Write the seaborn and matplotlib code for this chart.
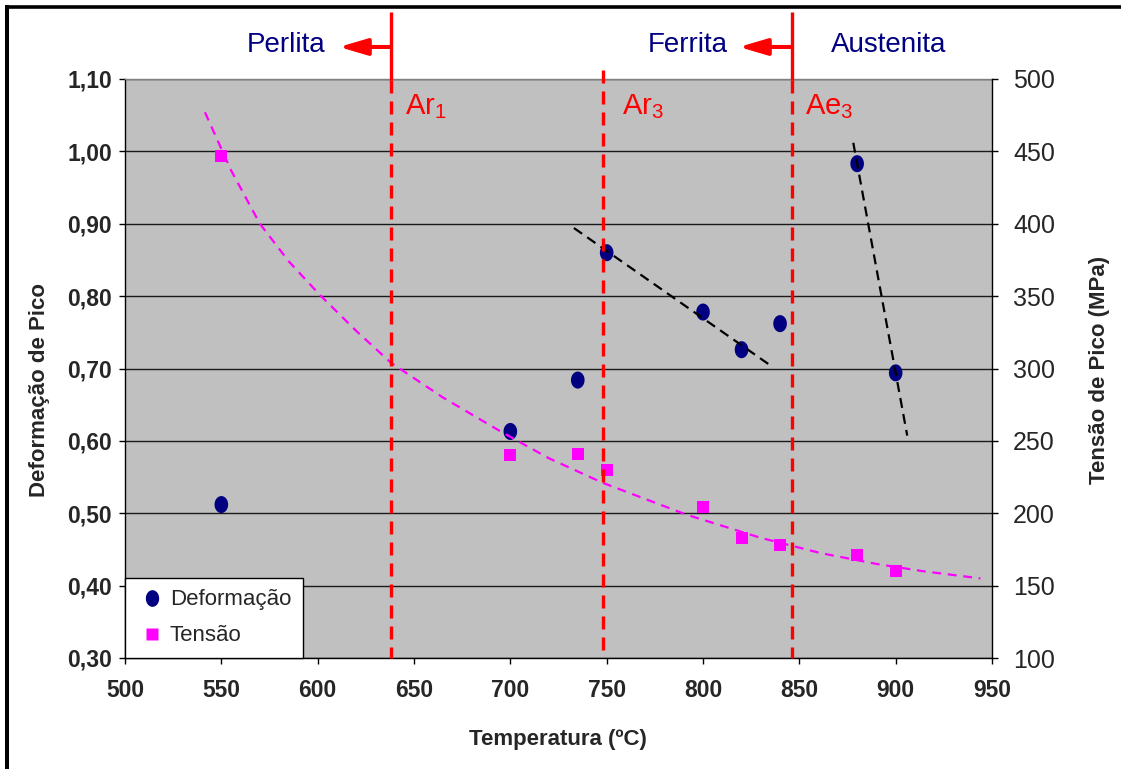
import numpy as np
import pandas as pd
import matplotlib
matplotlib.use("Agg")
import matplotlib.pyplot as plt
import seaborn as sns
from matplotlib.lines import Line2D
from matplotlib.path import Path

# ---------------- data ----------------
temperatura = [550, 700, 735, 750, 800, 820, 840, 880, 900]
deformacao = [0.512, 0.613, 0.684, 0.860, 0.778, 0.726, 0.762, 0.983, 0.694]
tensao = [447, 240, 241, 230, 204, 183, 178, 171, 160]

# Tensão trend curve
tendencia_temp = [541.5, 555, 570, 585, 601, 620, 638, 665, 695, 720, 748, 791.5, 830, 861, 890, 914, 944]
tendencia_tensao = [477, 437, 400, 374, 351, 326, 304, 280, 256.5, 238, 221, 199, 183, 172.5, 165, 160, 155]

# phase transformation temperatures
transf_nome = ["Ar", "Ar", "Ae"]
transf_indice = ["1", "3", "3"]
transf_temp = [638, 748, 846]

fases = ["Perlita", "Ferrita", "Austenita"]

x_ticks = [500, 550, 600, 650, 700, 750, 800, 850, 900, 950]
y_left_ticks = [0.30, 0.40, 0.50, 0.60, 0.70, 0.80, 0.90, 1.00, 1.10]
y_right_ticks = [100, 150, 200, 250, 300, 350, 400, 450, 500]

# ---------------- style ----------------
sns.set_style("white")
plt.rcParams["font.family"] = ["Liberation Sans", "DejaVu Sans"]
plt.rcParams["mathtext.fontset"] = "custom"
plt.rcParams["mathtext.rm"] = "Liberation Sans"
plt.rcParams["mathtext.it"] = "Liberation Sans:italic"
plt.rcParams["mathtext.bf"] = "Liberation Sans:bold"

W, H = 1121, 769
fig = plt.figure(figsize=(W / 100, H / 100), dpi=100)
fig.patch.set_facecolor("white")
ax = fig.add_axes([125 / W, (H - 658) / H, (992 - 125) / W, (658 - 79) / H])
ax.set_facecolor("#C0C0C0")
ax2 = ax.twinx()
ax2.patch.set_visible(False)

df = pd.DataFrame({"Temperatura": temperatura,
                   "Deformação": deformacao,
                   "Tensão": tensao})

navy = "#000080"
magenta = "#FF00FF"

# slightly tall elliptical marker (as in the original)
th = np.linspace(0, 2 * np.pi, 60)
ellipse = Path(np.column_stack([0.8 * np.cos(th), np.sin(th)]), closed=True)

sns.scatterplot(data=df, x="Temperatura", y="Deformação", ax=ax, color=navy,
                marker=ellipse, s=150, edgecolor="none", legend=False, zorder=4)
sns.scatterplot(data=df, x="Temperatura", y="Tensão", ax=ax2, color=magenta,
                marker="s", s=75, edgecolor="none", legend=False, zorder=4)

# trend lines
tx = np.array(temperatura, dtype=float)
ty_d = np.array(deformacao)

p1 = np.polyfit(tx[3:6], ty_d[3:6], 1)
xr1 = np.array([733, 836])
ax.plot(xr1, np.polyval(p1, xr1), color="black", lw=1.6, dashes=(4.5, 2.8), zorder=5)

p2 = np.polyfit(tx[7:9], ty_d[7:9], 1)
xr2 = np.array([878, 906])
ax.plot(xr2, np.polyval(p2, xr2), color="black", lw=1.6, dashes=(4.5, 2.8), zorder=5)

sns.lineplot(x=tendencia_temp, y=tendencia_tensao, ax=ax2, color=magenta, lw=1.6,
             dashes=(4, 3), zorder=5, sort=False, legend=False)

# axes limits / ticks
ax.set_xlim(500, 950)
ax.set_ylim(0.30, 1.10)
ax2.set_ylim(100, 500)
ax.set_xticks(x_ticks)
ax.set_xticklabels([str(v) for v in x_ticks])
ax.set_yticks(y_left_ticks)
ax.set_yticklabels([f"{v:.2f}".replace(".", ",") for v in y_left_ticks])
ax2.set_yticks(y_right_ticks)
ax2.set_yticklabels([str(v) for v in y_right_ticks])
ax.set_xlabel("")
ax.set_ylabel("")
ax2.set_ylabel("")

ax.grid(axis="y", color="#1a1a1a", lw=1.0)
ax.grid(axis="x", visible=False)
ax.set_axisbelow(True)

for s in ["left", "bottom"]:
    ax.spines[s].set_color("black")
    ax.spines[s].set_linewidth(1.0)
ax.spines["top"].set_color("#808080")
ax.spines["top"].set_linewidth(1.0)
ax.spines["right"].set_visible(False)
for s in ["left", "bottom", "top"]:
    ax2.spines[s].set_visible(False)
ax2.spines["right"].set_color("black")
ax2.spines["right"].set_linewidth(1.0)
ax2.spines["right"].set_visible(True)

ax.tick_params(axis="y", direction="out", length=4.3, width=1, color="black",
               pad=5, labelsize=16.5, left=True)
ax.tick_params(axis="x", direction="out", length=4.3, width=1, color="black",
               pad=11, labelsize=16.5, bottom=True)
ax2.tick_params(axis="y", direction="out", length=4.3, width=1, color="black",
                pad=11, labelsize=18, right=True)
for lab in ax.get_xticklabels() + ax.get_yticklabels():
    lab.set_fontweight("bold")

# axis titles
fig.text(558 / W, 1 - 740 / H, "Temperatura (ºC)", ha="center", va="center",
         fontsize=16, fontweight="bold")
fig.text(40 / W, 1 - 390 / H, "Deformação de Pico", ha="center", va="center",
         rotation=90, fontsize=16, fontweight="bold")
fig.text(1100 / W, 1 - 370 / H, "Tensão de Pico (MPa)", ha="center", va="center",
         rotation=90, fontsize=16, fontweight="bold")

# legend
handles = [Line2D([], [], marker=ellipse, ls="none", color=navy, ms=12, mec="none"),
           Line2D([], [], marker="s", ls="none", color=magenta, ms=8, mec="none")]
leg = ax2.legend(handles, ["Deformação", "Tensão"], loc="lower left",
                 bbox_to_anchor=(0, 0), borderaxespad=0, frameon=True,
                 fancybox=False, edgecolor="black", facecolor="white",
                 framealpha=1, fontsize=16, borderpad=0.52, labelspacing=0.68,
                 handlelength=1.4, handletextpad=0.1)
leg.get_frame().set_linewidth(1.0)
leg.set_zorder(10)

# transformation lines
trans = ax2.get_xaxis_transform()
for t in transf_temp:
    top = 1.0155 if t == transf_temp[1] else 0.998
    ax2.plot([t, t], [top, 0], transform=trans, color="red", lw=2.4,
             dashes=(3.9, 2.4), clip_on=False, zorder=8, solid_capstyle="butt")
for t in (transf_temp[0], transf_temp[2]):
    ax2.plot([t, t], [1.1157, 0.998], transform=trans, color="red", lw=2.4,
             clip_on=False, zorder=8, solid_capstyle="butt")

# arrows
for x0, x1 in ((transf_temp[0], 611.1), (transf_temp[2], 818.7)):
    ax2.annotate("", xy=(x1, 1.0553), xycoords=trans, xytext=(x0, 1.0553),
                 textcoords=trans, annotation_clip=False,
                 arrowprops=dict(arrowstyle="-|>,head_length=17,head_width=5",
                                 mutation_scale=1, color="red", lw=2.9,
                                 shrinkA=0, shrinkB=0))

# phase names
for name, xc in zip(fases, (583.8, 791.9, 896.3)):
    ax2.text(xc, 1.0466, name, transform=trans, ha="center", va="baseline",
             fontsize=20, color=navy, clip_on=False)

# transformation labels
for nome, idx, xl in zip(transf_nome, transf_indice, (645.3, 758.0, 852.9)):
    ax2.text(xl, 0.9396, nome + r"$_{\mathregular{" + idx + r"}}$",
             transform=trans, ha="left", va="baseline", fontsize=21,
             color="red", zorder=9)

# figure border (top & left)
fig.add_artist(Line2D([7 / W, 7 / W], [0, 1 - 5 / H], transform=fig.transFigure,
                      color="black", lw=2.9, solid_capstyle="butt"))
fig.add_artist(Line2D([5 / W, 1], [1 - 6.5 / H, 1 - 6.5 / H], transform=fig.transFigure,
                      color="black", lw=2.6, solid_capstyle="butt"))

fig.savefig("out.png", dpi=100)
